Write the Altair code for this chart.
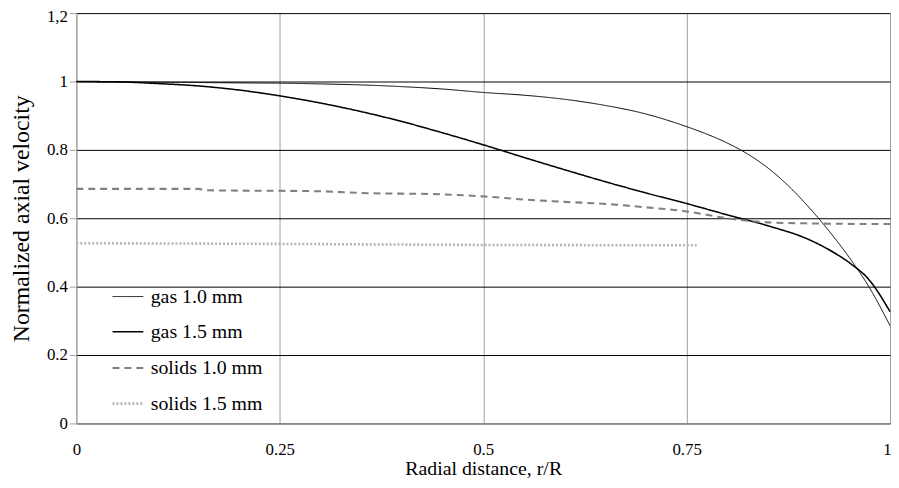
import altair as alt
import pandas as pd

# ---- data ----
gas10_x = [0, 0.05, 0.1, 0.15, 0.2, 0.25, 0.3, 0.35, 0.4, 0.45, 0.5, 0.55, 0.6, 0.65, 0.7, 0.75,
           0.775, 0.8, 0.825, 0.85, 0.875, 0.9, 0.925, 0.95, 0.975, 1.0]
gas10_y = [1.0, 0.999, 0.998, 0.997, 0.996, 0.995, 0.993, 0.99, 0.985, 0.978, 0.968, 0.96, 0.948, 0.93,
           0.905, 0.868, 0.846, 0.82, 0.788, 0.747, 0.695, 0.633, 0.563, 0.485, 0.396, 0.286]

gas15_x = [0, 0.05, 0.1, 0.15, 0.2, 0.25, 0.3, 0.35, 0.4, 0.45, 0.5, 0.55, 0.6, 0.65, 0.7, 0.75,
           0.8, 0.85, 0.9, 0.925, 0.95, 0.975, 1.0]
gas15_y = [1.0, 0.999, 0.994, 0.987, 0.975, 0.958, 0.937, 0.912, 0.883, 0.85, 0.815, 0.778, 0.742,
           0.707, 0.674, 0.643, 0.61, 0.578, 0.538, 0.508, 0.47, 0.418, 0.327]

sol10_x = [0, 0.15, 0.16, 0.3, 0.35, 0.45, 0.5, 0.55, 0.6, 0.65, 0.7, 0.75, 0.8, 0.85, 0.9, 1.0]
sol10_y = [0.686, 0.686, 0.682, 0.679, 0.674, 0.67, 0.664, 0.655, 0.648, 0.642, 0.632, 0.62, 0.6,
           0.588, 0.585, 0.583]

sol15_x = [0, 0.25, 0.5, 0.765]
sol15_y = [0.527, 0.525, 0.522, 0.521]

series = ["gas 1.0 mm", "gas 1.5 mm", "solids 1.0 mm", "solids 1.5 mm"]
colors = ["#000000", "#000000", "#808080", "#b4b4b4"]
dashes = [[1, 0], [1, 0], [7, 5], [2, 2]]
widths = [1, 2.6, 3.6, 3.4]

x_ticks = [0, 0.25, 0.5, 0.75, 1]
y_ticks = [0, 0.2, 0.4, 0.6, 0.8, 1.0, 1.2]

rows = []
for name, xs, ys in zip(series, [gas10_x, gas15_x, sol10_x, sol15_x], [gas10_y, gas15_y, sol10_y, sol15_y]):
    for i, (a, b) in enumerate(zip(xs, ys)):
        rows.append({"series": name, "x": a, "y": b, "order": i})
df = pd.DataFrame(rows)

FONT = "Liberation Serif"

legend = alt.Legend(
    title=None, orient="none", legendX=35, legendY=270,
    symbolType="stroke", symbolSize=961, labelFontSize=20, labelFont=FONT,
    rowPadding=9, labelOffset=6, labelColor="#000000",
)

chart = alt.Chart(df).mark_line(interpolate="monotone").encode(
    x=alt.X("x:Q", scale=alt.Scale(domain=[0, 1], nice=False),
            axis=alt.Axis(title="Radial distance, r/R", values=x_ticks,
                          labelExpr="format(datum.value, '.2~f')",
                          labelOffset={"condition": {"test": "datum.value > 0.99", "value": -3}, "value": 0},
                          ticks=False, labelPadding=18, labelFlush=False,
                          gridColor="#a0a0a0", domainColor="#a0a0a0",
                          titlePadding=2, titleFontSize=20)),
    y=alt.Y("y:Q", scale=alt.Scale(domain=[0, 1.2], nice=False),
            axis=alt.Axis(title="Normalized axial velocity", values=y_ticks,
                          labelExpr="datum.value > 1.19 ? '1,2' : format(datum.value, '.1~f')",
                          labelOffset={"condition": {"test": "datum.value > 1.19", "value": 3}, "value": 0},
                          tickSize=7, tickColor="#a0a0a0", labelPadding=2,
                          gridColor="#000000", domainColor="#a0a0a0",
                          titlePadding=13, titleFontSize=24)),
    color=alt.Color("series:N", scale=alt.Scale(domain=series, range=colors), legend=legend),
    strokeDash=alt.StrokeDash("series:N", scale=alt.Scale(domain=series, range=dashes), legend=legend),
    strokeWidth=alt.StrokeWidth("series:N", scale=alt.Scale(domain=series, range=widths), legend=legend),
    order="order:Q",
    detail="series:N",
).properties(
    width=821, height=414,
    padding={"left": 69, "top": 3, "right": 1, "bottom": 63},
    autosize=alt.AutoSizeParams(type="none"),
).configure_axis(
    labelFont=FONT, titleFont=FONT, labelFontSize=17,
    labelColor="#000000", titleColor="#000000", titleFontWeight="normal",
    gridOpacity=1, gridWidth=1, domainWidth=1,
).configure_view(stroke=None)

chart.save("out.html", embed_options={"renderer": "svg", "actions": False})
